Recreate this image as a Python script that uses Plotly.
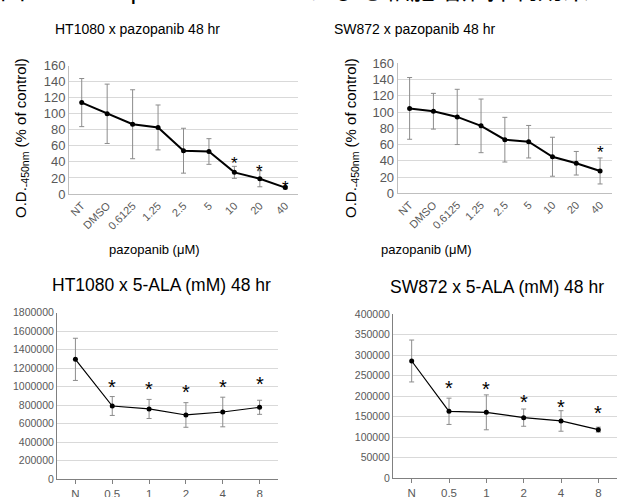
import plotly.graph_objects as go

W, H = 617, 497

# ---------------- data ----------------
pz_cats = ["NT", "DMSO", "0.6125", "1.25", "2.5", "5", "10", "20", "40"]
ht_pz_mean = [114, 100, 87, 83, 54, 53, 27, 19, 8]
ht_pz_err = [30, 37, 43, 28, 28, 16, 7.5, 10, 1.5]
ht_pz_star_cats = ["10", "20", "40"]
ht_pz_star_y = [43.6, 32.8, 13.3]

sw_pz_mean = [104.5, 101, 94, 83, 66, 63.5, 45, 37, 27.5]
sw_pz_err = [38, 22, 34, 33, 27.5, 20, 24, 14.5, 16]
sw_pz_star_cats = ["40"]
sw_pz_star_y = [55.4]

ala_cats = ["N", "0.5", "1", "2", "4", "8"]
ht_ala_mean = [1296000, 792000, 760000, 695000, 727000, 778000]
ht_ala_err = [228000, 102000, 103000, 133000, 160000, 76000]
ht_ala_star_cats = ["0.5", "1", "2", "4", "8"]
ht_ala_star_y = [1055000, 1030000, 1001000, 1048000, 1080000]

sw_ala_mean = [285600, 163100, 160600, 147700, 139600, 118500]
sw_ala_err = [51000, 32000, 42500, 21000, 25000, 6000]
sw_ala_star_cats = ["0.5", "1", "2", "4", "8"]
sw_ala_star_y = [231200, 229600, 197200, 186600, 170400]

main_title = "図 1：Pazopanib と 5-ALA による細胞増殖抑制効果"
titles = ["HT1080 x pazopanib 48 hr", "SW872 x pazopanib 48 hr",
          "HT1080 x 5-ALA (mM) 48 hr", "SW872 x 5-ALA (mM) 48 hr"]
x_title = "pazopanib (μM)"
y_title = "O.D.<sub>-450nm</sub> (% of control)"

# ---------------- helpers ----------------
def px(x):
    return x / W

def py(y):
    return 1 - y / H

FONT = "Liberation Sans, Arial, Noto Sans CJK JP, sans-serif"
TICK_COL = "#595959"
ERR_COL = "#8c8c8c"

fig = go.Figure()

panels = [
    dict(cats=pz_cats, mean=ht_pz_mean, err=ht_pz_err, sc=ht_pz_star_cats, sy=ht_pz_star_y,
         xd=[px(69), px(298)], yd=[py(194), py(65.7)], rng=[0, 160], dt=20, lw=2,
         xa="x", ya="y"),
    dict(cats=pz_cats, mean=sw_pz_mean, err=sw_pz_err, sc=sw_pz_star_cats, sy=sw_pz_star_y,
         xd=[px(397.7), px(612)], yd=[py(193.3), py(63.3)], rng=[0, 160], dt=20, lw=2,
         xa="x2", ya="y2"),
    dict(cats=ala_cats, mean=ht_ala_mean, err=ht_ala_err, sc=ht_ala_star_cats, sy=ht_ala_star_y,
         xd=[px(57), px(278)], yd=[py(479.3), py(312.7)], rng=[0, 1800000], dt=200000, lw=1.2,
         xa="x3", ya="y3"),
    dict(cats=ala_cats, mean=sw_ala_mean, err=sw_ala_err, sc=sw_ala_star_cats, sy=sw_ala_star_y,
         xd=[px(393), px(617)], yd=[py(478.3), py(314)], rng=[0, 400000], dt=50000, lw=1.2,
         xa="x4", ya="y4"),
]

annotations = []
layout_axes = {}
for i, p in enumerate(panels):
    top = i < 2
    fig.add_trace(go.Scatter(
        x=p["cats"], y=p["mean"], mode="lines+markers",
        line=dict(color="black", width=p["lw"]),
        marker=dict(color="black", size=5),
        error_y=dict(type="data", array=p["err"], color=ERR_COL, thickness=1, width=2.5),
        xaxis=p["xa"], yaxis=p["ya"], showlegend=False, hoverinfo="skip",
    ))
    for c, yv in zip(p["sc"], p["sy"]):
        annotations.append(dict(
            x=p["cats"].index(c), y=yv, xref=p["xa"], yref=p["ya"], text="*", showarrow=False,
            font=dict(family=FONT, size=17 if top else 20, color="black"),
            yanchor="middle", yshift=-4 if top else -5,
        ))
    sfx = "" if i == 0 else str(i + 1)
    layout_axes["xaxis" + sfx] = dict(
        domain=p["xd"], anchor="y" + sfx, type="category",
        range=[-0.5, len(p["cats"]) - 0.5], automargin=False,
        showgrid=False, showline=True,
        linecolor="#bfbfbf" if top else "#808080", linewidth=1,
        ticks="" if top else "outside", ticklen=4, tickcolor="#808080",
        tickangle=-45 if top else 0,
        tickfont=dict(family=FONT, size=11 if top else 11.5, color=TICK_COL),
        zeroline=False, fixedrange=True,
    )
    layout_axes["yaxis" + sfx] = dict(
        domain=p["yd"], anchor="x" + sfx, range=p["rng"], dtick=p["dt"],
        tickformat="d", showgrid=True, gridcolor="#d9d9d9", gridwidth=1,
        showline=True, linecolor="#bfbfbf" if top else "#808080", linewidth=1,
        ticks="", automargin=False,
        tickfont=dict(family=FONT, size=13 if top else 10.5, color=TICK_COL),
        zeroline=False, fixedrange=True,
    )

# titles
title_pos = [(137, 29, 14), (414, 29, 14), (162, 285, 17.5), (497, 286.7, 17.5)]
for t, (x, y, s) in zip(titles, title_pos):
    annotations.append(dict(x=px(x), y=py(y), xref="paper", yref="paper", text=t,
                            showarrow=False, xanchor="center", yanchor="middle",
                            font=dict(family=FONT, size=s, color="black")))

# x titles
for x in (154, 426):
    annotations.append(dict(x=px(x), y=py(250), xref="paper", yref="paper", text=x_title,
                            showarrow=False, xanchor="center", yanchor="middle",
                            font=dict(family=FONT, size=13, color="black")))

# y titles
for x in (21, 351):
    annotations.append(dict(x=px(x), y=py(138), xref="paper", yref="paper", text=y_title,
                            showarrow=False, xanchor="center", yanchor="middle", textangle=-90,
                            font=dict(family=FONT, size=15, color="black")))

# cropped main title at the very top
annotations.append(dict(x=0, y=py(6), xref="paper", yref="paper", text=main_title,
                        showarrow=False, xanchor="left", yanchor="bottom", xshift=-2,
                        font=dict(family=FONT, size=25.5, color="black")))

fig.update_layout(
    width=W, height=H, margin=dict(l=0, r=0, t=0, b=0, autoexpand=False),
    paper_bgcolor="white", plot_bgcolor="white",
    annotations=annotations, font=dict(family=FONT),
    **layout_axes,
)

fig.write_html("out.html", config={"displayModeBar": False},
               post_script="document.body.style.margin='0';document.body.style.overflow='hidden';")
